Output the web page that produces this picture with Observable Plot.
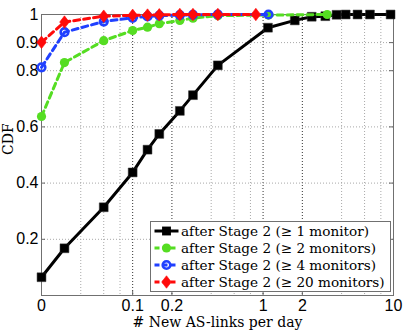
<!DOCTYPE html>
<html><head><meta charset="utf-8">
<script src="https://cdn.jsdelivr.net/npm/d3@7"></script>
<script src="https://cdn.jsdelivr.net/npm/@observablehq/plot@0.6"></script>
<style>body{margin:0;background:#fff}#chart{width:407px;height:332px}</style>
</head><body><div id="chart"></div>
<script>
// ---- data ----
const xZero = 0.02; // where "0" sits on the log axis
const seriesNames = [
  "after Stage 2 (\u2265 1 monitor)",
  "after Stage 2 (\u2265 2 monitors)",
  "after Stage 2 (\u2265 4 monitors)",
  "after Stage 2 (\u2265 20 monitors)"
];
const x1 = [0, 0.03, 0.06, 0.1, 0.13, 0.16, 0.23, 0.29, 0.45, 1.09, 1.75, 2.36, 3.0, 3.66, 4.3, 5.3, 6.6, 9.5];
const y1 = [0.065, 0.168, 0.314, 0.438, 0.519, 0.575, 0.657, 0.713, 0.819, 0.953, 0.979, 0.992, 0.994, 0.999, 1, 1, 1, 1];
const x2 = [0, 0.03, 0.06, 0.1, 0.13, 0.16, 0.23, 0.29, 0.45, 1.1, 3.1];
const y2 = [0.637, 0.829, 0.907, 0.943, 0.955, 0.967, 0.979, 0.987, 0.996, 0.998, 1.0];
const x4 = [0, 0.03, 0.06, 0.1, 0.13, 0.16, 0.23, 0.29, 0.45, 1.1];
const y4 = [0.812, 0.937, 0.975, 0.988, 0.993, 0.996, 0.998, 0.999, 1.0, 1.0];
const x20 = [0, 0.03, 0.06, 0.1, 0.13, 0.16, 0.23, 0.29, 0.45, 0.88];
const y20 = [0.901, 0.973, 0.994, 0.997, 0.998, 0.999, 1.0, 1.0, 1.0, 1.0];

const xTickValues = [0, 0.1, 0.2, 1, 2, 10];
const xTickLabels = ["0", "0.1", "0.2", "1", "2", "10"];
const xMajorGrid = [0.1, 0.2, 1, 2];
const xMinorGrid = [0.04, 0.06, 0.08, 0.4, 0.6, 0.8, 4, 6, 8];
const yTickValues = [0.2, 0.4, 0.6, 0.8, 0.9, 1];
const yTickLabels = ["0.2", "0.4", "0.6", "0.8", "0.9", "1"];
const yGrid = [0.2, 0.4, 0.6, 0.8, 0.9];

const colors = ["#000000", "#55dd22", "#2040ff", "#ff0a0a"];

// ---- build ----
const toX = v => v === 0 ? xZero : v;
const xsAll = [x1, x2, x4, x20], ysAll = [y1, y2, y4, y20];
const series = seriesNames.map((name, i) =>
  xsAll[i].map((x, j) => ({series: name, x: toX(x), y: ysAll[i][j]})));
const xTickRows = xTickValues.map((v, i) => ({x: toX(v), label: xTickLabels[i]}));
const yTickRows = yTickValues.map((v, i) => ({y: v, label: yTickLabels[i]}));

const diamond = {
  draw(ctx, size) {
    const r = Math.sqrt(size / Math.PI);
    const h = r * 1.3, w = r * 1.0;
    ctx.moveTo(0, -h); ctx.lineTo(w, 0); ctx.lineTo(0, h); ctx.lineTo(-w, 0); ctx.closePath();
  }
};

const serif = "DejaVu Serif";
const sans = "Liberation Sans";
const W = 407, H = 332, mL = 41, mR = 14, mT = 14, mB = 37;
const fw = W - mL - mR, fh = H - mT - mB;

const plot = Plot.plot({
  width: W, height: H,
  marginLeft: mL, marginRight: mR, marginTop: mT, marginBottom: mB,
  x: {type: "log", domain: [xZero, 10], axis: null},
  y: {domain: [0, 1], axis: null},
  style: {fontFamily: sans, fontSize: "16px", background: "white", color: "black"},
  marks: [
    Plot.ruleX(xMinorGrid, {stroke: "#a8a8a8", strokeDasharray: "1,2"}),
    Plot.ruleX(xMajorGrid, {stroke: "#333", strokeDasharray: "1,2"}),
    Plot.ruleY(yGrid, {stroke: "#a8a8a8", strokeDasharray: "1,2"}),
    Plot.tickX(xTickRows, {x: "x", insetTop: fh - 4, stroke: "#666"}),
    Plot.tickX(xTickRows, {x: "x", insetBottom: fh - 4, stroke: "#666"}),
    Plot.tickY(yTickRows, {y: "y", insetRight: fw - 4, stroke: "#666"}),
    Plot.tickY(yTickRows, {y: "y", insetLeft: fw - 4, stroke: "#666"}),
    Plot.text(xTickRows, {x: "x", text: "label", frameAnchor: "bottom", dy: 4, lineAnchor: "top", fontFamily: sans, fontSize: 16}),
    Plot.text(yTickRows, {y: "y", text: "label", frameAnchor: "left", dx: -3, textAnchor: "end", fontFamily: sans, fontSize: 16}),
    Plot.frame({stroke: "#707070"}),
    // black
    Plot.line(series[0], {x: "x", y: "y", stroke: colors[0], strokeWidth: 3}),
    Plot.dot(series[0], {x: "x", y: "y", symbol: "square", r: 5, fill: colors[0], stroke: "#333", strokeWidth: 0.5}),
    // green
    Plot.line(series[1], {x: "x", y: "y", stroke: colors[1], strokeWidth: 3, strokeDasharray: "6,4"}),
    Plot.dot(series[1], {x: "x", y: "y", symbol: "circle", r: 4.6, fill: colors[1], stroke: "none"}),
    // blue
    Plot.line(series[2], {x: "x", y: "y", stroke: colors[2], strokeWidth: 3, strokeDasharray: "6,4"}),
    Plot.dot(series[2], {x: "x", y: "y", symbol: "circle", r: 3.8, fill: "none", stroke: colors[2], strokeWidth: 2.6}),
    // red
    Plot.line(series[3], {x: "x", y: "y", stroke: colors[3], strokeWidth: 3, strokeDasharray: "6,4"}),
    Plot.dot(series[3], {x: "x", y: "y", symbol: diamond, r: 4.8, fill: colors[3], stroke: colors[3], strokeWidth: 0.6}),
    // axis titles
    Plot.text(["# New AS-links per day"], {frameAnchor: "bottom", dy: 31, lineAnchor: "bottom", fontFamily: serif, fontSize: 14}),
    Plot.text(["CDF"], {frameAnchor: "left", dx: -28.3, rotate: -90, lineAnchor: "bottom", fontFamily: serif, fontSize: 14})
  ]
});
document.getElementById("chart").appendChild(plot);

// ---- legend (inside plot, lower right) ----
const svg = d3.select(plot);
const lg = svg.append("g");
const lx = 150.5, ly = 221.5, lw = 240, lh = 70;
lg.append("rect").attr("x", lx).attr("y", ly).attr("width", lw).attr("height", lh)
  .attr("fill", "white").attr("stroke", "#707070").attr("stroke-width", 1);
const symFns = [
  (g, c) => g.append("path").attr("d", d3.symbol(d3.symbolSquare, Math.PI * 25)()).attr("fill", c),
  (g, c) => g.append("circle").attr("r", 4.6).attr("fill", c),
  (g, c) => g.append("circle").attr("r", 3.8).attr("fill", "none").attr("stroke", c).attr("stroke-width", 2.6),
  (g, c) => g.append("path").attr("d", d3.symbol(diamond, Math.PI * 4.8 * 4.8)()).attr("fill", c).attr("stroke", c).attr("stroke-width", 0.6)
];
seriesNames.forEach((name, i) => {
  const cy = ly + 9.5 + i * 17;
  const row = lg.append("g");
  row.append("line").attr("x1", lx + 4).attr("x2", lx + 28).attr("y1", cy).attr("y2", cy)
    .attr("stroke", colors[i]).attr("stroke-width", 3)
    .attr("stroke-dasharray", i === 0 ? null : "5,3");
  symFns[i](row.append("g").attr("transform", `translate(${lx + 16},${cy})`), colors[i]);
  row.append("text").attr("x", lx + 30.5).attr("y", cy + 5).attr("text-anchor", "start")
    .attr("font-family", serif).attr("font-size", 13.6).attr("fill", "black").text(name);
});
</script>
</body></html>
